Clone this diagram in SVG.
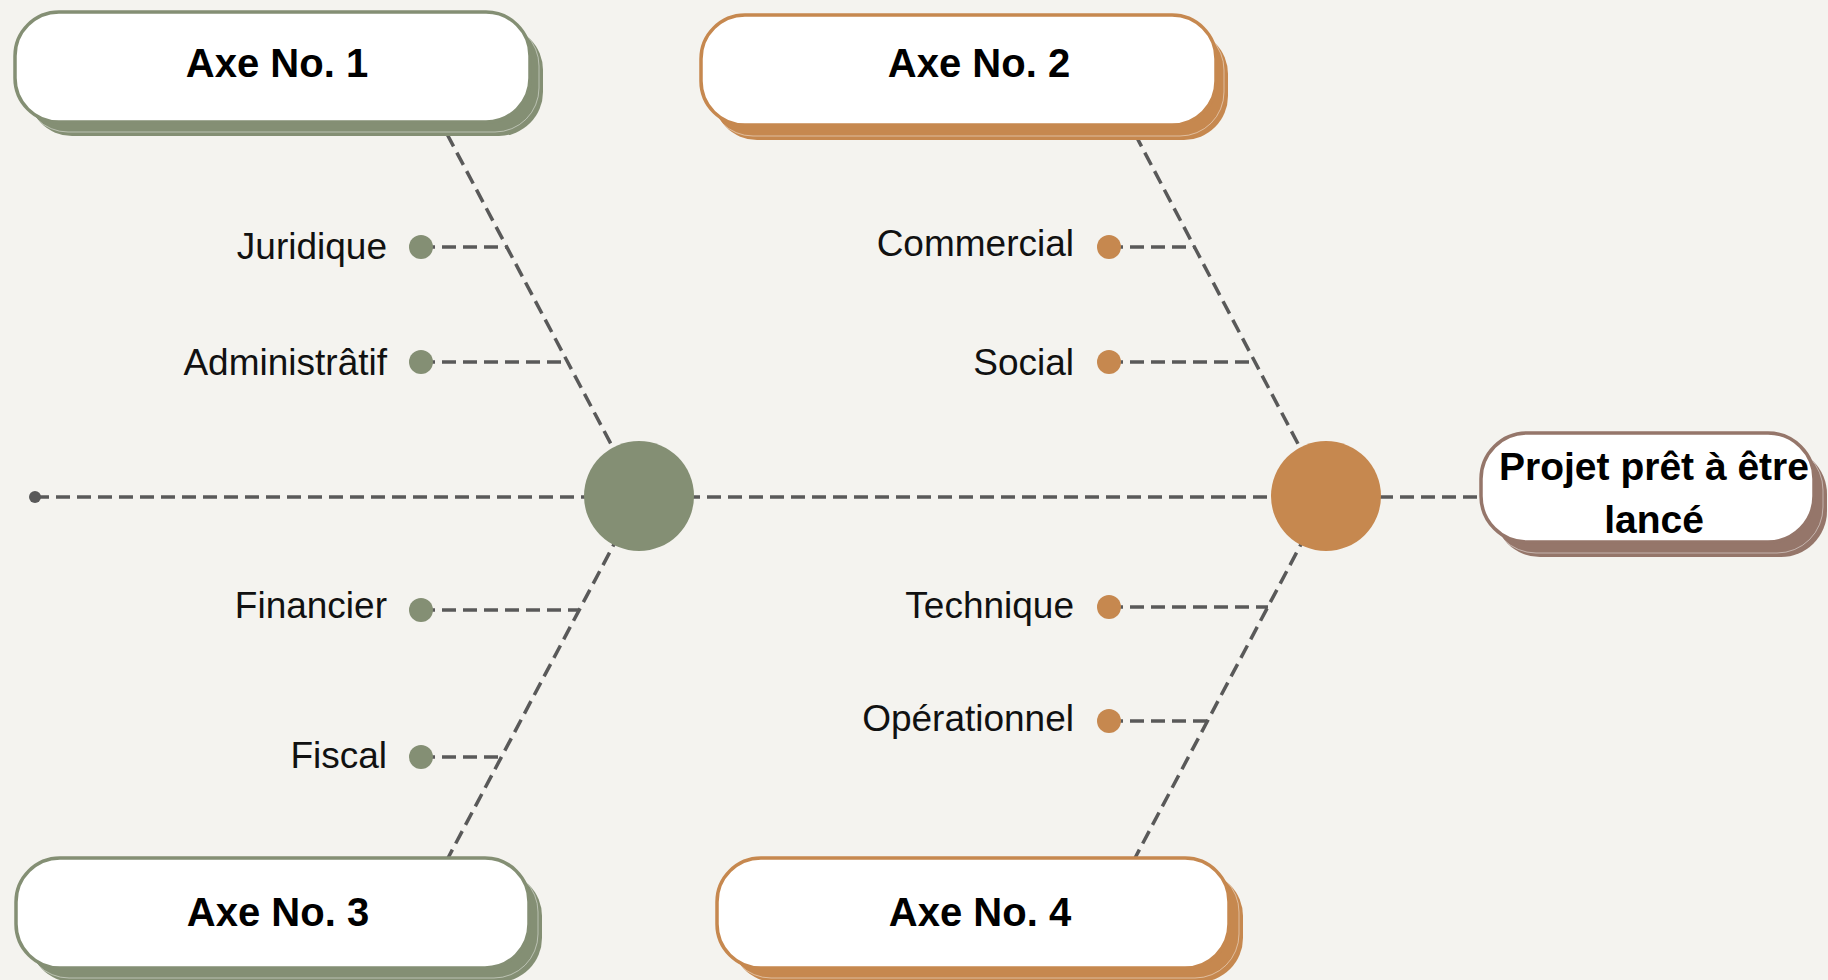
<svg xmlns="http://www.w3.org/2000/svg" width="1828" height="980" viewBox="0 0 1828 980">
<style>
.bg{fill:#f4f3ef}
.dash{stroke:#595959;stroke-width:3.5;stroke-dasharray:14 7;fill:none}
.card{fill:#ffffff;stroke-width:3.5}
.g .card{stroke:#848f74}.g .sh,.g .dot,.g .hub{fill:#848f74}
.o .card{stroke:#c6884f}.o .sh,.o .dot,.o .hub{fill:#c6884f}
.b .card{stroke:#95766a}.b .sh{fill:#95766a}
.sh2{fill:none;stroke:#ffffff;stroke-opacity:0.45;stroke-width:1}
.title{font-family:"Liberation Sans",Arial,sans-serif;font-weight:bold;font-size:40px;fill:#000;text-anchor:middle}
.lbl{font-family:"Liberation Sans",Arial,sans-serif;font-size:37px;fill:#111;text-anchor:end}
</style>
<rect class="bg" x="0" y="0" width="1828" height="980"/>
<g id="connectors">
  <line class="dash" x1="35" y1="497" x2="1481" y2="497"/>
  <line class="dash" x1="447" y1="134" x2="639" y2="497"/>
  <line class="dash" x1="639" y1="497" x2="448" y2="858"/>
  <line class="dash" x1="1135" y1="134" x2="1326" y2="497"/>
  <line class="dash" x1="1326" y1="497" x2="1135" y2="858"/>
  <line class="dash" x1="421" y1="247" x2="507" y2="247"/>
  <line class="dash" x1="421" y1="362" x2="567" y2="362"/>
  <line class="dash" x1="421" y1="610" x2="579" y2="610"/>
  <line class="dash" x1="421" y1="757" x2="501" y2="757"/>
  <line class="dash" x1="1109" y1="247" x2="1194" y2="247"/>
  <line class="dash" x1="1109" y1="362" x2="1255" y2="362"/>
  <line class="dash" x1="1109" y1="607" x2="1268" y2="607"/>
  <line class="dash" x1="1109" y1="721" x2="1207" y2="721"/>
  <circle cx="35" cy="497" r="6" fill="#595959"/>
</g>
<g id="axe1" class="g">
  <rect class="sh" x="28" y="26" width="515" height="110" rx="44"/>
  <rect class="sh2" x="24" y="22" width="515" height="110" rx="44"/>
  <rect class="card" x="15" y="12" width="515" height="110" rx="44"/>
  <text class="title" x="277" y="77">Axe No. 1</text>
</g>
<g id="axe2" class="o">
  <rect class="sh" x="713" y="30" width="515" height="110" rx="44"/>
  <rect class="sh2" x="709" y="26" width="515" height="110" rx="44"/>
  <rect class="card" x="701" y="15" width="515" height="110" rx="44"/>
  <text class="title" x="979" y="77">Axe No. 2</text>
</g>
<g id="axe3" class="g">
  <rect class="sh" x="29" y="872" width="513" height="110" rx="44"/>
  <rect class="sh2" x="25" y="868" width="513" height="110" rx="44"/>
  <rect class="card" x="16" y="858" width="513" height="110" rx="44"/>
  <text class="title" x="278" y="926">Axe No. 3</text>
</g>
<g id="axe4" class="o">
  <rect class="sh" x="731" y="872" width="512" height="110" rx="44"/>
  <rect class="sh2" x="727" y="868" width="512" height="110" rx="44"/>
  <rect class="card" x="717" y="858" width="512" height="110" rx="44"/>
  <text class="title" x="980" y="926">Axe No. 4</text>
</g>
<g id="projet" class="b">
  <rect class="sh" x="1494" y="448" width="333" height="109" rx="46"/>
  <rect class="sh2" x="1490" y="444" width="333" height="109" rx="46"/>
  <rect class="card" x="1481" y="433" width="333" height="109" rx="46"/>
  <text class="title" x="1654" y="480" style="font-size:39px">Projet prêt à être</text>
  <text class="title" x="1654" y="533" style="font-size:39px">lancé</text>
</g>
<g id="hub-left" class="g"><circle class="hub" cx="639" cy="496" r="55"/></g>
<g id="hub-right" class="o"><circle class="hub" cx="1326" cy="496" r="55"/></g>
<g id="juridique" class="g"><circle class="dot" cx="421" cy="247" r="12"/><text class="lbl" x="387" y="259">Juridique</text></g>
<g id="administratif" class="g"><circle class="dot" cx="421" cy="362" r="12"/><text class="lbl" x="387" y="375">Administrâtif</text></g>
<g id="financier" class="g"><circle class="dot" cx="421" cy="610" r="12"/><text class="lbl" x="387" y="618">Financier</text></g>
<g id="fiscal" class="g"><circle class="dot" cx="421" cy="757" r="12"/><text class="lbl" x="387" y="768">Fiscal</text></g>
<g id="commercial" class="o"><circle class="dot" cx="1109" cy="247" r="12"/><text class="lbl" x="1074" y="256">Commercial</text></g>
<g id="social" class="o"><circle class="dot" cx="1109" cy="362" r="12"/><text class="lbl" x="1074" y="375">Social</text></g>
<g id="technique" class="o"><circle class="dot" cx="1109" cy="607" r="12"/><text class="lbl" x="1074" y="618">Technique</text></g>
<g id="operationnel" class="o"><circle class="dot" cx="1109" cy="721" r="12"/><text class="lbl" x="1074" y="731">Opérationnel</text></g>
</svg>
